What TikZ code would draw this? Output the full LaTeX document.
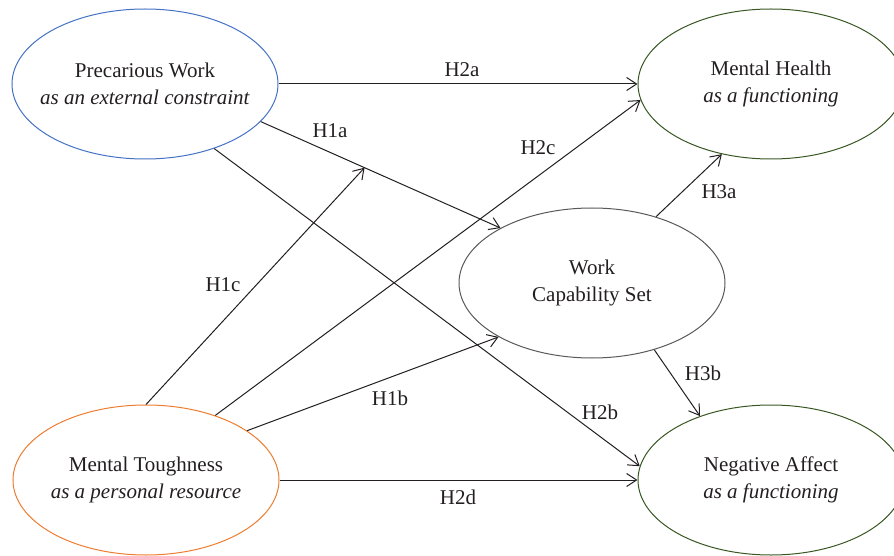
\documentclass[tikz,border=0pt]{standalone}
\usepackage{fontspec}
\setmainfont{Liberation Serif}
\usetikzlibrary{arrows.meta,shapes.geometric}
\definecolor{pwblue}{RGB}{68,114,196}
\definecolor{mtorange}{RGB}{237,125,49}
\definecolor{fgreen}{RGB}{56,87,35}
\definecolor{wgrey}{RGB}{89,89,89}
\definecolor{txt}{RGB}{35,31,32}
\begin{document}
\begin{tikzpicture}[x=1pt,y=-1pt,
  ell/.style={ellipse, draw, line width=1pt, minimum width=266pt, minimum height=150pt,
    inner xsep=-40pt, inner ysep=0pt, align=center, font=\fontsize{21}{27}\selectfont, text=txt},
  arr/.style={draw=txt, line width=1pt, -{Straight Barb[length=10pt,width=13pt]}},
  lab/.style={font=\fontsize{21}{24}\selectfont, text=txt, inner sep=0pt}]
\useasboundingbox (0,0) rectangle (894,556);
\node[ell, draw=pwblue] (pw) at (145,84) {Precarious Work\\\textit{as an external constraint}};
\node[ell, draw=fgreen] (mh) at (771,84) {Mental Health\\\textit{as a functioning}};
\node[ell, draw=wgrey] (wcs) at (592,283) {Work\\Capability Set};
\node[ell, draw=mtorange] (mt) at (146,480) {Mental Toughness\\\textit{as a personal resource}};
\node[ell, draw=fgreen] (na) at (771,480) {Negative Affect\\\textit{as a functioning}};

\draw[arr] (pw.east) -- (mh.west);
\draw[arr] (pw.-18.6) -- coordinate[pos=0.433] (m) (wcs.149.4);
\draw[arr] (pw.-43.7) -- (na.174.3);
\draw[arr] (mt.north) -- (m);
\draw[arr] (mt.43.7) -- (mh.187.4);
\draw[arr] (mt.26.6) -- (wcs.210.4);
\draw[arr] (mt.east) -- (na.west);
\draw[arr] (wcs.46.8) -- (mh.235.4);
\draw[arr] (wcs.-47.7) -- (na.138);

\node[lab] (l2a) at (462,70) {H2a};
\node[lab] (l1a) at (330,131) {H1a};
\node[lab] (l2c) at (538,148) {H2c};
\node[lab] (l3a) at (719,192) {H3a};
\node[lab] (l1c) at (223,285) {H1c};
\node[lab] (l3b) at (703,373) {H3b};
\node[lab] (l1b) at (390,398) {H1b};
\node[lab] (l2b) at (600,412) {H2b};
\node[lab] (l2d) at (458,497) {H2d};
\end{tikzpicture}
\end{document}
